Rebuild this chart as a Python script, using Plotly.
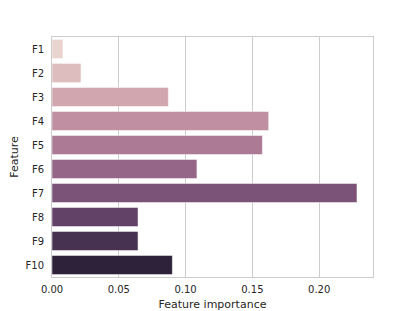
import colorsys
import numpy as np
import plotly.graph_objects as go

features = ["F1", "F2", "F3", "F4", "F5", "F6", "F7", "F8", "F9", "F10"]
importance = [0.0082, 0.0217, 0.0871, 0.1622, 0.1575, 0.1085, 0.2283, 0.0644, 0.0644, 0.0901]
x_ticks = [0.0, 0.05, 0.10, 0.15, 0.20]
x_tick_labels = ["0.00", "0.05", "0.10", "0.15", "0.20"]


def cubehelix(n, start=0.0, rot=0.4, gamma=1.0, hue=0.8, light=0.85, dark=0.15, sat=0.75):
    xs = np.linspace(light, dark, n)
    out = []
    for x in xs:
        xg = x ** gamma
        a = hue * xg * (1 - xg) / 2
        phi = 2 * np.pi * (start / 3 + rot * x)
        r = xg + a * (-0.14861 * np.cos(phi) + 1.78277 * np.sin(phi))
        g = xg + a * (-0.29227 * np.cos(phi) - 0.90649 * np.sin(phi))
        b = xg + a * (1.97294 * np.cos(phi))
        r, g, b = [min(max(v, 0), 1) for v in (r, g, b)]
        h, l, s = colorsys.rgb_to_hls(r, g, b)
        r, g, b = colorsys.hls_to_rgb(h, l, s * sat)
        r, g, b = [int(round(v * 255)) for v in (r, g, b)]
        out.append(f"rgb({r},{g},{b})")
    return out


colors = cubehelix(len(features))

fig = go.Figure(
    go.Bar(
        x=importance,
        y=features,
        orientation="h",
        width=0.8,
        marker=dict(color=colors, line=dict(color="white", width=0.5)),
    )
)

# page body has an 8px default margin; size the figure so it fills the 415x311 window
text_col = "#262626"
fig.update_layout(
    width=407,
    height=303,
    margin=dict(l=44, r=42, t=29, b=34),
    paper_bgcolor="white",
    plot_bgcolor="white",
    font=dict(family="DejaVu Sans", size=10, color=text_col),
    showlegend=False,
    bargap=0.2,
)
fig.update_xaxes(
    automargin=False,
    range=[0, 0.2403],
    tickvals=x_ticks,
    ticktext=x_tick_labels,
    showgrid=True,
    gridcolor="#cccccc",
    gridwidth=1,
    zeroline=False,
    showline=True,
    linecolor="#cccccc",
    linewidth=1,
    mirror=True,
    ticks="",
    ticklen=0,
    ticklabelstandoff=3,
    tickfont=dict(size=10, color=text_col),
    title=dict(text="Feature importance", font=dict(size=11, color=text_col), standoff=15),
)
fig.update_yaxes(
    automargin=False,
    autorange="reversed",
    showgrid=False,
    zeroline=False,
    showline=True,
    linecolor="#cccccc",
    linewidth=1,
    mirror=True,
    ticks="",
    tickfont=dict(size=10, color=text_col),
    ticklabelstandoff=5,
    title=dict(text="Feature", font=dict(size=11, color=text_col), standoff=4),
)

fig.write_html("out.html")
